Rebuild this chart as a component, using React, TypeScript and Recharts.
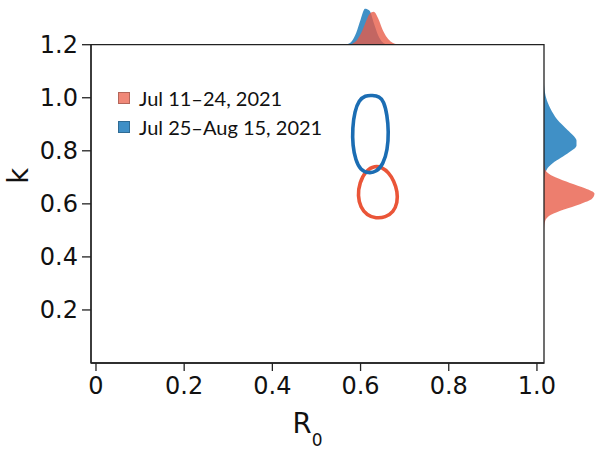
import {
  ScatterChart,
  Scatter,
  XAxis,
  YAxis,
  ReferenceArea,
  Legend,
  AreaChart,
  Area,
} from "recharts";

// axes
const R0_TICKS = [0, 0.2, 0.4, 0.6, 0.8, 1.0];
const K_TICKS = [0.2, 0.4, 0.6, 0.8, 1.0, 1.2];

// series labels
const LEGEND_LABELS = ["Jul 11–24, 2021", "Jul 25–Aug 15, 2021"];

// contour of the joint posterior, Jul 11–24
const RED_R0 = [0.6327, 0.6485, 0.6633, 0.6757, 0.6837, 0.6837, 0.6746, 0.6565, 0.6349, 0.6145, 0.5998, 0.5937, 0.5975, 0.6122];
const RED_K = [0.7434, 0.7377, 0.7189, 0.6868, 0.6453, 0.6038, 0.5698, 0.5491, 0.5453, 0.5566, 0.5868, 0.6302, 0.6792, 0.7264];

// contour of the joint posterior, Jul 25–Aug 15
const BLUE_R0 = [0.627, 0.6429, 0.6526, 0.6603, 0.6637, 0.6612, 0.6512, 0.6361, 0.6179, 0.5998, 0.5889, 0.5821, 0.5816, 0.5868, 0.5964, 0.6104];
const BLUE_K = [1.0094, 1.0045, 0.9868, 0.9358, 0.8717, 0.8038, 0.7491, 0.7208, 0.7151, 0.7275, 0.7642, 0.8189, 0.8868, 0.9491, 0.9906, 1.0083];

// marginal density of R0 (top)
const TOP_R0 = [0.55, 0.56, 0.57, 0.58, 0.59, 0.6, 0.61, 0.62, 0.63, 0.64, 0.65, 0.66, 0.67, 0.68, 0.69, 0.7, 0.71, 0.72];
const TOP_BLUE = [0, 0.1, 0.8, 3.8, 12.0, 25.3, 36.3, 34.4, 22.1, 9.6, 2.7, 0.5, 0.1, 0, 0, 0, 0, 0];
const TOP_RED = [0, 0, 0.2, 1.1, 4.0, 10.7, 21.1, 30.8, 33.2, 26.5, 15.3, 7.5, 3.0, 1.0, 0.3, 0, 0, 0];

// marginal density of k (right)
const RIGHT_K = [1.08, 1.06, 1.04, 1.02, 1.0, 0.98, 0.96, 0.94, 0.92, 0.9, 0.88, 0.86, 0.84, 0.82, 0.8, 0.78, 0.76, 0.74, 0.72, 0.7, 0.68, 0.66, 0.64, 0.62, 0.6, 0.58, 0.56, 0.54, 0.52, 0.5];
const RIGHT_BLUE = [0, 0, 0.3, 1.0, 2.2, 4.0, 6.5, 9.5, 13, 18, 23.5, 29, 32.5, 32.5, 27, 19, 10.5, 4.5, 1.5, 0.4, 0, 0, 0, 0, 0, 0, 0, 0, 0, 0];
const RIGHT_RED = [0, 0, 0, 0, 0, 0, 0, 0, 0, 0, 0, 0, 0, 0, 0, 0, 0, 0.5, 3, 12, 26, 41, 50.5, 48, 36, 20, 7, 1.5, 0.3, 0];

const RED_LINE = "#ea5538";
const BLUE_LINE = "#1b6db3";
const RED_FILL = "#e85a45";
const BLUE_FILL = "#3a8cc4";
const LEGEND_COLORS = ["#f08878", "#3f8fc6"];

const R0_DOMAIN = [-0.0113, 1.016];
const K_DOMAIN = [0, 1.2];

const redContour = RED_R0.map((r0, i) => ({ r0, k: RED_K[i] }));
const blueContour = BLUE_R0.map((r0, i) => ({ r0, k: BLUE_K[i] }));
const topRows = TOP_R0.map((r0, i) => ({ r0, blue: TOP_BLUE[i], red: TOP_RED[i] }));
const rightRows = RIGHT_K.map((k, i) => ({ k, blue: RIGHT_BLUE[i], red: RIGHT_RED[i] }));

const tickStyle = { fill: "#111", fontSize: 24, fontFamily: "DejaVu Sans" };

const renderLegend = () => (
  <div style={{ fontFamily: "Lato", fontSize: 20, color: "#111" }}>
    {LEGEND_LABELS.map((label, i) => (
      <div
        key={label}
        style={{ display: "flex", alignItems: "center", height: 29.5, whiteSpace: "nowrap" }}
      >
        <span
          style={{
            display: "inline-block",
            width: 10,
            height: 10,
            background: LEGEND_COLORS[i],
            border: "0.8px solid rgba(0,0,0,0.25)",
            marginRight: 9,
          }}
        />
        {label}
      </div>
    ))}
  </div>
);

const XLabel = (props: any) => {
  const vb = props.viewBox;
  return (
    <text
      x={vb.x + vb.width / 2 - 10}
      y={vb.y + 70}
      textAnchor="middle"
      fill="#111"
      fontSize={27.5}
      fontFamily="DejaVu Sans"
    >
      R
      <tspan fontSize={17} dy={13}>
        0
      </tspan>
    </text>
  );
};

const YLabel = (props: any) => {
  const vb = props.viewBox;
  const y = vb.y + vb.height / 2 - 28;
  return (
    <text
      x={28}
      y={y}
      textAnchor="middle"
      transform={`rotate(-90, 28, ${y})`}
      fill="#111"
      fontSize={27.5}
      fontFamily="DejaVu Sans"
    >
      k
    </text>
  );
};

export default function App() {
  return (
    <div style={{ position: "relative", width: 600, height: 451, background: "#fff" }}>
      <style>{"body{margin:0}"}</style>

      {/* top marginal */}
      <div style={{ position: "absolute", left: 91, top: 0 }}>
        <AreaChart width={453} height={45} data={topRows} margin={{ top: 0, right: 0, bottom: 0, left: 0 }}>
          <XAxis type="number" dataKey="r0" domain={R0_DOMAIN} allowDataOverflow hide />
          <YAxis type="number" domain={[0, 45]} allowDataOverflow hide />
          <Area type="monotone" dataKey="blue" stroke="none" fill={BLUE_FILL} fillOpacity={0.97} isAnimationActive={false} />
          <Area type="monotone" dataKey="red" stroke="none" fill={RED_FILL} fillOpacity={0.78} isAnimationActive={false} />
        </AreaChart>
      </div>

      {/* right marginal */}
      <div style={{ position: "absolute", left: 544, top: 44.7 }}>
        <AreaChart
          width={56}
          height={318.3}
          layout="vertical"
          data={rightRows}
          margin={{ top: 0, right: 0, bottom: 0, left: 0 }}
        >
          <XAxis type="number" domain={[0, 56]} allowDataOverflow hide />
          <YAxis type="number" dataKey="k" domain={K_DOMAIN} allowDataOverflow reversed hide />
          <Area type="monotone" dataKey="blue" stroke="none" fill={BLUE_FILL} fillOpacity={0.97} isAnimationActive={false} />
          <Area type="monotone" dataKey="red" stroke="none" fill={RED_FILL} fillOpacity={0.78} isAnimationActive={false} />
        </AreaChart>
      </div>

      {/* main panel */}
      <div style={{ position: "absolute", left: 0, top: 0 }}>
        <ScatterChart width={600} height={451} margin={{ top: 44.7, right: 56, bottom: 0, left: 0 }}>
          <XAxis
            type="number"
            dataKey="r0"
            domain={R0_DOMAIN}
            allowDataOverflow
            ticks={R0_TICKS}
            interval={0}
            tickFormatter={(v: number) => (v === 0 ? "0" : v.toFixed(1))}
            height={88}
            tickSize={8}
            tickMargin={6}
            stroke="#222"
            strokeWidth={1.3}
            tick={tickStyle}
            label={XLabel}
          />
          <YAxis
            type="number"
            dataKey="k"
            domain={K_DOMAIN}
            allowDataOverflow
            ticks={K_TICKS}
            interval={0}
            tickFormatter={(v: number) => v.toFixed(1)}
            width={91}
            tickSize={9}
            tickMargin={4}
            stroke="#222"
            strokeWidth={1.3}
            tick={tickStyle}
            label={YLabel}
          />
          <ReferenceArea
            x1={R0_DOMAIN[0]}
            x2={R0_DOMAIN[1]}
            y1={K_DOMAIN[0]}
            y2={K_DOMAIN[1]}
            fill="none"
            stroke="#222"
            strokeWidth={1.3}
          />
          <Scatter
            name={LEGEND_LABELS[0]}
            data={redContour}
            fill={LEGEND_COLORS[0]}
            line={{ stroke: RED_LINE, strokeWidth: 3.6 }}
            lineJointType="basisClosed"
            shape={() => <g />}
            isAnimationActive={false}
          />
          <Scatter
            name={LEGEND_LABELS[1]}
            data={blueContour}
            fill={LEGEND_COLORS[1]}
            line={{ stroke: BLUE_LINE, strokeWidth: 3.6 }}
            lineJointType="basisClosed"
            shape={() => <g />}
            isAnimationActive={false}
          />
          <Legend
            content={renderLegend}
            layout="vertical"
            align="center"
            verticalAlign="middle"
            wrapperStyle={{ left: 118, top: 83, width: "auto" }}
          />
        </ScatterChart>
      </div>
    </div>
  );
}
